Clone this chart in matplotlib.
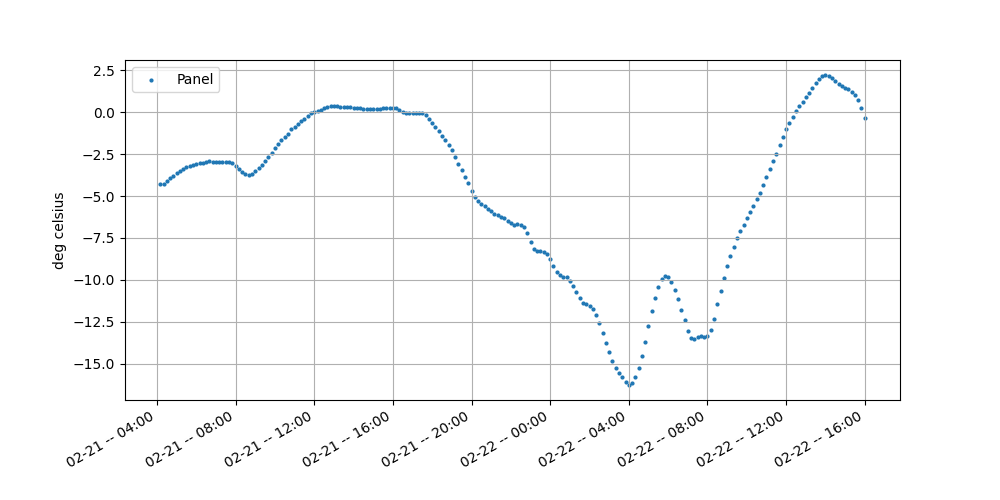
import matplotlib
matplotlib.use("Agg")
import matplotlib.pyplot as plt
import matplotlib.dates as mdates
import pandas as pd

start_time = "2023-02-21 04:10"
step = "10min"

panel_temp = [
    -4.29, -4.29, -4.09, -3.95, -3.79, -3.65, -3.53, -3.37, -3.27, -3.20, -3.14, -3.08,
    -3.04, -3.02, -2.96, -2.92, -2.94, -2.98, -2.98, -2.98, -2.98, -2.98, -3.04, -3.20,
    -3.40, -3.57, -3.69, -3.75, -3.67, -3.52, -3.34, -3.14, -2.90, -2.64, -2.40,
    -2.14, -1.90, -1.67, -1.49, -1.27, -1.01, -0.86, -0.71, -0.52, -0.38, -0.22, -0.06,
    0.02, 0.08, 0.14, 0.26, 0.32, 0.36, 0.36, 0.36, 0.30, 0.30, 0.30, 0.30, 0.28, 0.24,
    0.24, 0.18, 0.18, 0.18, 0.18, 0.18, 0.22, 0.24, 0.25,
    0.26, 0.26, 0.26, 0.14, 0.02, -0.06, -0.06, -0.06, -0.06, -0.06, -0.06, -0.18, -0.42,
    -0.65, -0.89, -1.13, -1.41, -1.67, -1.95, -2.26, -2.68, -3.10, -3.45, -3.87, -4.23,
    -4.68, -5.04, -5.28, -5.48, -5.62, -5.78, -5.89, -6.07, -6.15, -6.23,
    -6.29, -6.49, -6.61, -6.73, -6.65, -6.71, -6.85, -7.20, -7.74, -8.15, -8.27, -8.27,
    -8.33, -8.45, -8.75, -9.17, -9.52, -9.70, -9.82, -9.82, -10.06, -10.38, -10.71, -11.07,
    -11.37, -11.43, -11.55, -11.73, -12.08, -12.56, -13.15, -13.75, -14.29, -14.82, -15.24, -15.54,
    -15.77, -16.07, -16.25, -16.13, -15.77, -15.24, -14.52, -13.69, -12.74, -11.85, -11.07,
    -10.42, -9.94, -9.76, -9.82, -10.12, -10.60, -11.13, -11.79, -12.38, -13.04, -13.45,
    -13.51, -13.39, -13.33, -13.39, -13.33, -12.98, -12.32, -11.43, -10.65, -9.88, -9.17,
    -8.57, -8.04, -7.50, -7.08, -6.71, -6.31, -5.95, -5.58, -5.18, -4.82, -4.35, -3.87,
    -3.39, -2.92, -2.50, -1.96, -1.49, -1.01, -0.65, -0.30, 0.06, 0.36, 0.60, 0.89,
    1.13, 1.43, 1.73, 1.96, 2.14, 2.20, 2.14, 2.02, 1.85, 1.67, 1.55, 1.43, 1.37, 1.19,
    1.01, 0.71, 0.24, -0.36,
]

times = pd.date_range(start=start_time, periods=len(panel_temp), freq=step)

fig, ax = plt.subplots(figsize=(10, 5), dpi=100)
ax.scatter(times, panel_temp, s=4, color="#1f77b4", label="Panel")
ax.set_ylabel("deg celsius")
ax.grid(True)
ax.xaxis.set_major_locator(mdates.HourLocator(byhour=range(0, 24, 4)))
ax.xaxis.set_major_formatter(mdates.DateFormatter("%m-%d -- %H:%M"))
ax.legend(loc="upper left")
fig.autofmt_xdate()
fig.savefig("out.png", dpi=100)
